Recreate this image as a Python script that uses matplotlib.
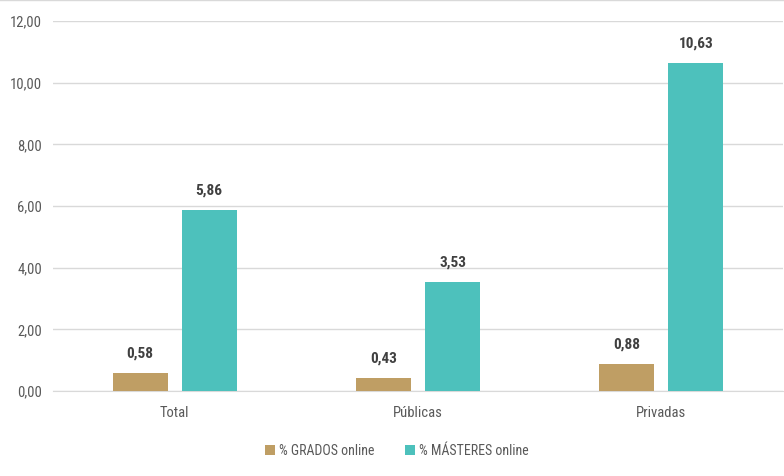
import matplotlib
matplotlib.use('Agg')
import matplotlib.pyplot as plt
from matplotlib import font_manager
import numpy as np

categories = ['Total', 'Públicas', 'Privadas']
grados = [0.58, 0.43, 0.88]
masteres = [5.86, 3.53, 10.63]
series_names = ['% GRADOS online', '% MÁSTERES online']
yticks = [0, 2, 4, 6, 8, 10, 12]

installed = {f.name for f in font_manager.fontManager.ttflist}
family = 'DejaVu Sans'
for cand in ['Roboto Condensed', 'Liberation Sans Narrow', 'DejaVu Sans Condensed', 'Open Sans Condensed']:
    if cand in installed:
        family = cand
        break
plt.rcParams['font.family'] = family

C_GRADO = '#BF9E64'
C_MASTER = '#4DC1BC'
TXT = '#595959'

fig = plt.figure(figsize=(7.84, 4.76), dpi=100)
ax = fig.add_axes([53/784, 1 - 391/476, 730/784, 370/476])

x = np.arange(len(categories))
w = 0.226
off = 0.142
b1 = ax.bar(x - off, grados, w, color=C_GRADO, label=series_names[0], zorder=3)
b2 = ax.bar(x + off, masteres, w, color=C_MASTER, label=series_names[1], zorder=3)

for bars, vals in [(b1, grados), (b2, masteres)]:
    for r, v in zip(bars, vals):
        ax.annotate(f'{v:.2f}'.replace('.', ','), (r.get_x() + r.get_width()/2, v),
                    xytext=(0, 9), textcoords='offset points', ha='center', va='bottom',
                    fontsize=11, fontweight='bold', color='#404040')

ax.set_xlim(-0.5, 2.5)
ax.set_ylim(0, 12)
ax.set_yticks(yticks)
ax.set_yticklabels([f'{t:.2f}'.replace('.', ',') for t in yticks], fontsize=10.5, color=TXT)
ax.set_xticks(x)
ax.set_xticklabels(categories, fontsize=10.5, color=TXT)
ax.tick_params(axis='y', length=0, pad=8)
ax.tick_params(axis='x', length=0, pad=11)
ax.yaxis.grid(True, color='#D9D9D9', lw=1, zorder=0)
for s in ['top', 'right', 'left']:
    ax.spines[s].set_visible(False)
ax.spines['bottom'].set_color('#D9D9D9')

fig.legend(handles=[b1, b2], labels=series_names, loc='center', bbox_to_anchor=(397/784, 1 - 451/476),
           ncol=2, frameon=False, fontsize=10, handlelength=0.7, handleheight=0.7,
           columnspacing=2.2, handletextpad=0.3, labelcolor=TXT)

fig.add_artist(plt.Line2D([0, 1], [0.999, 0.999], color='#D9D9D9', lw=1, transform=fig.transFigure))

fig.savefig('out.png', dpi=100)
